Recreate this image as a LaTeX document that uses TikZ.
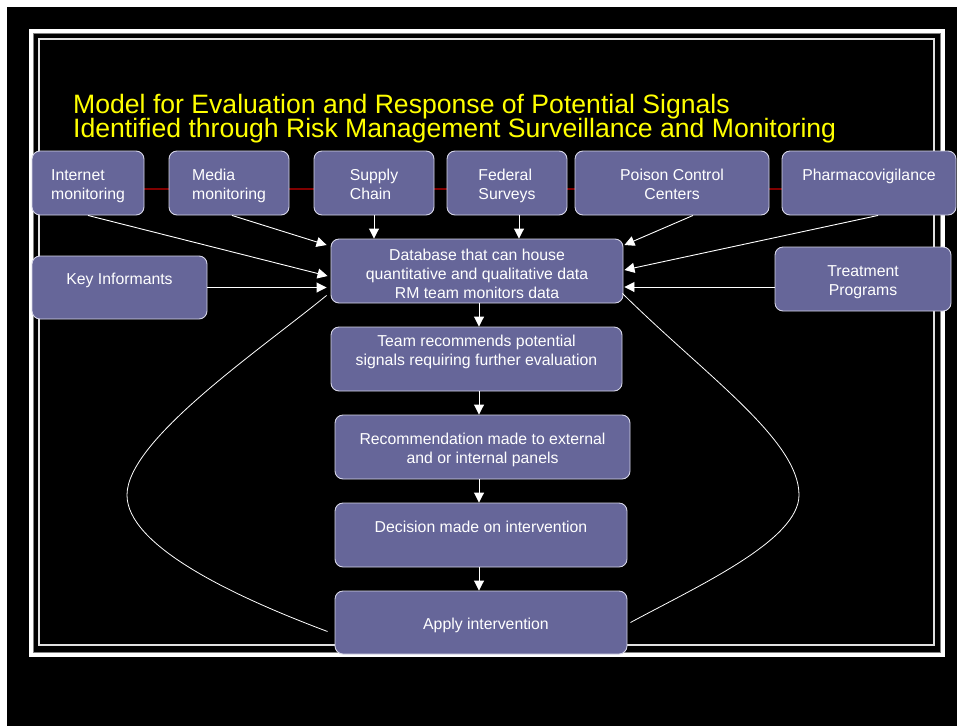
\documentclass[tikz,border=0pt]{standalone}
\usepackage{fontspec}
\setmainfont{Liberation Sans}
\usetikzlibrary{arrows.meta,calc}
\definecolor{boxfill}{RGB}{102,102,153}
\definecolor{boxline}{RGB}{214,214,232}
\definecolor{titleyellow}{RGB}{255,255,0}
\definecolor{redline}{RGB}{128,0,0}
\pgfdeclarelayer{back}
\pgfdeclarelayer{mid}
\pgfsetlayers{back,mid,main}
\newcommand\tA{\rule{0pt}{16.5pt}}
\newcommand\tB{\rule[-3.5pt]{0pt}{0pt}}
\begin{document}
\begin{tikzpicture}[x=1pt,y=-1pt,
  box/.style={draw=boxline, fill=boxfill, line width=0.9pt, rounded corners=8pt,
    text=white, font=\fontsize{15.8}{19}\selectfont, inner sep=0pt},
  arr/.style={draw=white, line width=0.9pt, -{Triangle[length=10pt,width=10pt]}},
  loopline/.style={draw=white, line width=0.8pt},
  ttl/.style={text=titleyellow, font=\fontsize{26.6}{24.4}\selectfont, inner sep=0pt, anchor=base west}]
\useasboundingbox (0,0) rectangle (957,726);
\begin{pgfonlayer}{back}
\fill[white] (0,0) rectangle (957,726);
\fill[black] (7,7) rectangle (957,726);
\draw[white, line width=4.3pt] (31.2,31.2) rectangle (942.8,654.8);
\draw[gray, line width=1pt] (33.8,33.8) rectangle (940.2,652.2);
\draw[white!88!black, line width=1.2pt] (39,39) rectangle (934,645);
\end{pgfonlayer}

% title
\node[ttl] (t1) at (73,113.3) {Model for Evaluation and Response of Potential Signals};
\node[ttl] (t2) at (73,137.7) {Identified through Risk Management Surveillance and Monitoring};

% top row
\node[box, minimum width=112pt, minimum height=64pt, align=left] (inet) at (88,183) {\tA Internet\\monitoring\tB};
\node[box, minimum width=120pt, minimum height=64pt, align=left] (media) at (229,183) {\tA Media\\monitoring\tB};
\node[box, minimum width=120pt, minimum height=64pt, align=left] (supply) at (374,183) {\tA Supply\\Chain\tB};
\node[box, minimum width=120pt, minimum height=64pt, align=left] (federal) at (507,183) {\tA Federal\\Surveys\tB};
\node[box, minimum width=194pt, minimum height=64pt, align=center] (poison) at (672,183) {\tA Poison Control\\Centers\tB};
\node[box, minimum width=174pt, minimum height=64pt, align=center] (pharma) at (869,183) {\tA Pharmacovigilance\\\mbox{}\tB};

% middle row
\node[box, minimum width=175pt, minimum height=63pt, align=center] (key) at (119.5,287.5) {\tA Key Informants\\\mbox{}\tB};
\node[box, minimum width=292pt, minimum height=64pt, align=center] (db) at (477,271) {\rule{0pt}{20.5pt}Database that can house\\quantitative and qualitative data\\RM team monitors data\tB};
\node[box, minimum width=176pt, minimum height=64pt, align=center] (treat) at (863,279) {\tA Treatment\\Programs\tB};

% column
\node[box, minimum width=291pt, minimum height=64pt, align=center] (team) at (476.5,359) {\tA Team recommends potential\\signals requiring further evaluation\\\mbox{}\tB};
\node[box, minimum width=295pt, minimum height=64pt, align=center] (rec) at (482.5,447) {\tA Recommendation made to external\\and or internal panels\tB};
\node[box, minimum width=292pt, minimum height=64pt, align=center] (dec) at (481,535) {\tA Decision made on intervention\\\mbox{}\tB};
\node[box, minimum width=292pt, minimum height=63pt, align=center] (apply) at (481,622.5) {\tA\hspace{10pt}Apply intervention\tB};

% red line behind the top row
\begin{pgfonlayer}{mid}
\draw[redline, line width=1.2pt] ($(inet.east)+(0,6)$) -- ($(pharma.west)+(0,6)$);
\end{pgfonlayer}

% inputs to database
\draw[arr] (inet.south) -- ($(db.west)+(-3,5)$);
\draw[arr] ($(media.south)+(3,0)$) -- ($(db.west)+(-4,-26)$);
\draw[arr] (key.east) -- ($(key.east -| db.west)+(-4,0)$);
\draw[arr] (supply.south) -- (supply.south |- db.north);
\coordinate (fedout) at ($(federal.south)+(12,0)$);
\draw[arr] (fedout) -- (fedout |- db.north);
\draw[arr] ($(poison.south)+(21,0)$) -- ($(db.east)+(1,-26)$);
\draw[arr] ($(pharma.south)+(9,0)$) -- ($(db.east)+(1,-1)$);
\coordinate (trout) at ($(treat.west)+(0,8)$);
\draw[arr] (trout) -- ($(trout -| db.east)+(1,0)$);

% spine
\coordinate (spine) at (479,0);
\draw[arr] (db.south -| spine) -- (team.north -| spine);
\draw[arr] (team.south -| spine) -- (rec.north -| spine);
\draw[arr] (rec.south -| spine) -- (dec.north -| spine);
\draw[arr] (dec.south -| spine) -- (apply.north -| spine);

% feedback loops
\draw[loopline] ($(db.south west)+(-4,-8)$) .. controls (260,350) and (127,440) .. (127,495)
  .. controls (127,545) and (230,595) .. ($(apply.west)+(-7,9)$);
\draw[loopline] ($(db.south east)+(-1,-10)$) .. controls (705,375) and (799,440) .. (799,495)
  .. controls (799,540) and (700,585) .. ($(apply.east)+(3,0)$);
\end{tikzpicture}
\end{document}
